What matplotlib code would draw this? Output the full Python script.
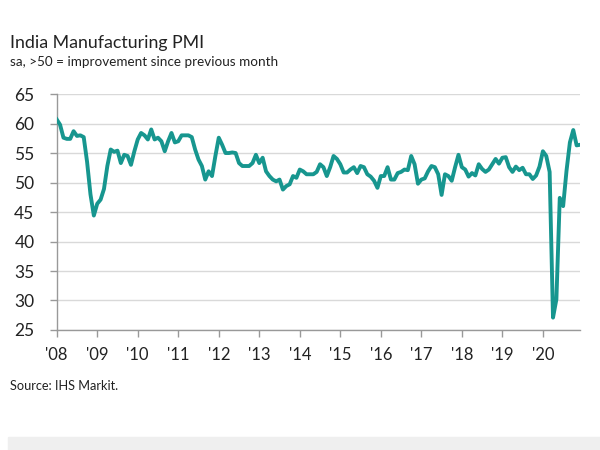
import matplotlib.pyplot as plt
import numpy as np

# monthly PMI readings, Jan 2008 .. Dec 2020
pmi_2008 = [60.7, 59.8, 57.6, 57.4, 57.4, 58.7, 57.9, 58.0, 57.7, 53.5, 48.0, 44.4]
pmi_2009 = [46.4, 47.1, 48.9, 52.8, 55.6, 55.2, 55.4, 53.3, 54.7, 54.5, 53.0, 55.3]
pmi_2010 = [57.3, 58.4, 58.0, 57.3, 59.0, 57.3, 57.6, 57.0, 55.3, 57.0, 58.4, 56.8]
pmi_2011 = [57.0, 58.0, 58.0, 58.0, 57.7, 55.6, 53.9, 52.8, 50.5, 51.9, 51.1, 54.5]
pmi_2012 = [57.6, 56.4, 55.0, 55.0, 55.1, 55.0, 53.3, 52.8, 52.8, 52.8, 53.3, 54.7]
pmi_2013 = [53.3, 54.2, 51.9, 51.1, 50.5, 50.2, 50.5, 48.8, 49.4, 49.7, 51.1, 50.8]
pmi_2014 = [52.2, 51.9, 51.4, 51.4, 51.4, 51.8, 53.1, 52.6, 51.1, 52.6, 54.5, 54.0]
pmi_2015 = [53.1, 51.7, 51.7, 52.2, 52.6, 51.6, 52.8, 52.6, 51.4, 51.0, 50.3, 49.1]
pmi_2016 = [51.1, 51.1, 52.6, 50.5, 50.5, 51.6, 51.8, 52.2, 52.1, 54.5, 53.1, 49.8]
pmi_2017 = [50.5, 50.7, 51.9, 52.8, 52.6, 51.4, 47.9, 51.4, 51.1, 50.3, 52.6, 54.7]
pmi_2018 = [52.6, 52.2, 51.0, 51.6, 51.2, 53.1, 52.3, 51.8, 52.2, 53.1, 54.0, 53.2]
pmi_2019 = [54.2, 54.3, 52.6, 51.8, 52.7, 52.1, 52.5, 51.4, 51.4, 50.6, 51.2, 52.7]
pmi_2020 = [55.3, 54.5, 51.8, 27.1, 30.2, 47.4, 46.0, 52.0, 56.8, 58.9, 56.3, 56.4]

years = ["'08", "'09", "'10", "'11", "'12", "'13", "'14", "'15", "'16", "'17", "'18", "'19", "'20"]
yticks = [25, 30, 35, 40, 45, 50, 55, 60, 65]

pmi = (pmi_2008 + pmi_2009 + pmi_2010 + pmi_2011 + pmi_2012 + pmi_2013 + pmi_2014
       + pmi_2015 + pmi_2016 + pmi_2017 + pmi_2018 + pmi_2019 + pmi_2020)
t = np.arange(len(pmi)) / 12.0  # years since Jan 2008

plt.rcParams['font.family'] = ['Lato', 'DejaVu Sans']

fig = plt.figure(figsize=(6, 4.5), dpi=100)
ax = fig.add_axes([0.0945, 0.2667, 0.8722, 0.5243])

ax.plot(t, pmi, color='#17968f', lw=2.8, solid_joinstyle='round', zorder=3)

ax.set_xlim(0, t[-1])
ax.set_ylim(25, 65)
ax.set_yticks(yticks)
ax.set_yticklabels([str(v) for v in yticks])
ax.set_xticks(np.arange(len(years)))
ax.set_xticklabels(years)

ax.grid(axis='y', color='#d9d9d9', lw=1.0)
ax.set_axisbelow(True)
for s in ['top', 'right']:
    ax.spines[s].set_visible(False)
for s in ['left', 'bottom']:
    ax.spines[s].set_color('#999999')
    ax.spines[s].set_linewidth(1.0)
ax.tick_params(axis='both', colors='#999999', length=5, width=1.0, labelcolor='#222222', labelsize=12)
ax.tick_params(axis='y', labelsize=12.5, pad=11)
ax.tick_params(axis='x', pad=7)

fig.text(0.017, 0.905, 'India Manufacturing PMI', fontsize=12.8, color='#222222', va='center')
fig.text(0.017, 0.862, 'sa, >50 = improvement since previous month', fontsize=9.7, color='#222222', va='center')
fig.text(0.017, 0.143, 'Source: IHS Markit.', fontsize=9.2, color='#222222', va='center')

# grey strip at the bottom
fig.patches.append(plt.Rectangle((0.013, 0.0), 0.987, 0.03, transform=fig.transFigure,
                                 color='#efefef', zorder=0))

fig.savefig('out.png', dpi=100)
